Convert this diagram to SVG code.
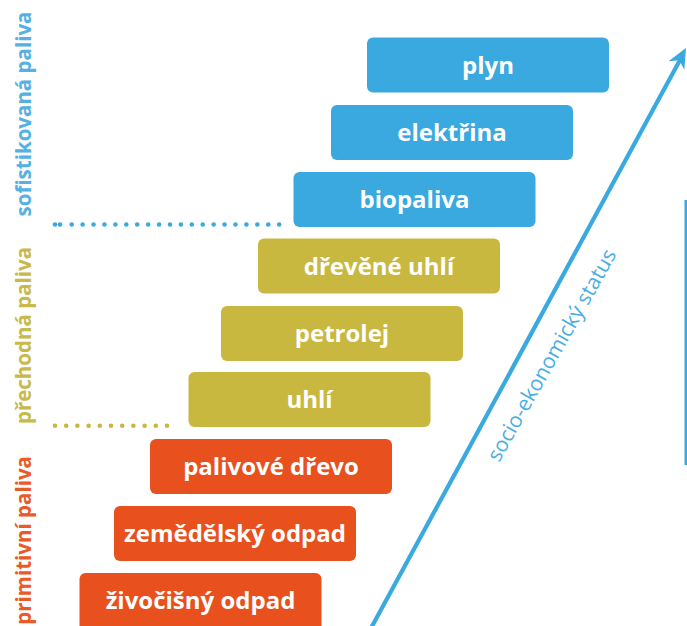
<svg xmlns="http://www.w3.org/2000/svg" width="687" height="626" viewBox="0 0 687 626">
<style>
.box{stroke:none}
.blue{fill:#39A9E0}
.yel{fill:#C9B83F}
.org{fill:#E8501D}
.lbl{font-family:"Open Sans","Noto Sans",sans-serif;font-weight:700;font-size:24px;fill:#fff;text-anchor:middle}
.side{font-family:"Open Sans","Noto Sans",sans-serif;font-weight:700;font-size:20.5px}
.axis{font-family:"Open Sans","Noto Sans",sans-serif;font-weight:400;font-size:21px;fill:#4BAEE3}
</style>
<rect width="687" height="626" fill="#fff"/>
<g id="side-labels">
<text class="side" fill="#55B1E3" transform="translate(31,114) rotate(-90)" text-anchor="middle">sofistikovaná paliva</text>
<text class="side" fill="#C8B94B" transform="translate(31,335.5) rotate(-90)" text-anchor="middle">přechodná paliva</text>
<text class="side" fill="#EA5A28" transform="translate(31,456) rotate(-90)" text-anchor="end">primitivní paliva</text>
</g>
<g id="separators">
<g fill="#39A9E0">
<circle cx="55" cy="224.5" r="2.3"/><circle cx="60" cy="224.5" r="2.3"/>
<line x1="71.7" y1="224.5" x2="280" y2="224.5" stroke="#39A9E0" stroke-width="4.6" stroke-linecap="round" stroke-dasharray="0 10.92"/>
</g>
<line x1="55" y1="425.7" x2="168" y2="425.7" stroke="#C9B83F" stroke-width="4.6" stroke-linecap="round" stroke-dasharray="0 11.2"/>
</g>
<g id="n-plyn"><rect class="box blue" x="367" y="37.5" width="242" height="55" rx="6"/><text class="lbl" x="488" y="73.5">plyn</text></g>
<g id="n-elektrina"><rect class="box blue" x="331" y="105" width="242" height="55" rx="6"/><text class="lbl" x="452" y="141">elektřina</text></g>
<g id="n-biopaliva"><rect class="box blue" x="293.5" y="172" width="242" height="55" rx="6"/><text class="lbl" x="414.5" y="208">biopaliva</text></g>
<g id="n-drevene-uhli"><rect class="box yel" x="258" y="238.5" width="242" height="55" rx="6"/><text class="lbl" x="379" y="274.5">dřevěné uhlí</text></g>
<g id="n-petrolej"><rect class="box yel" x="221" y="306" width="242" height="55" rx="6"/><text class="lbl" x="342" y="342">petrolej</text></g>
<g id="n-uhli"><rect class="box yel" x="188.5" y="372" width="242" height="55" rx="6"/><text class="lbl" x="309.5" y="408">uhlí</text></g>
<g id="n-palivove-drevo"><rect class="box org" x="150" y="439" width="242" height="55" rx="6"/><text class="lbl" x="271" y="475">palivové dřevo</text></g>
<g id="n-zemedelsky-odpad"><rect class="box org" x="114" y="506" width="242" height="55" rx="6"/><text class="lbl" x="235" y="542">zemědělský odpad</text></g>
<g id="n-zivocisny-odpad"><rect class="box org" x="79.5" y="573" width="242" height="58" rx="6"/><text class="lbl" x="200.5" y="609">živočišný odpad</text></g>
<g id="connectors">
<line x1="370" y1="630" x2="680" y2="60" stroke="#39A9E0" stroke-width="4.2"/>
<polygon points="686,48 668.5,61.2 679.3,60.3 684.3,69.8" fill="#39A9E0"/>
<rect x="684.5" y="200" width="3" height="265" fill="#39A9E0"/>
</g>
<text class="axis" transform="translate(499,463) rotate(-60.5)">socio-ekonomický status</text>
</svg>
